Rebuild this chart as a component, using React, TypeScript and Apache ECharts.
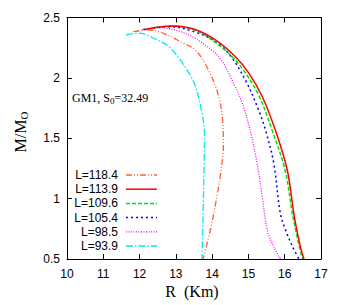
import React, { useEffect, useRef } from "react";
import * as echarts from "echarts";

const seriesNames = ["L=118.4", "L=113.9", "L=109.6", "L=105.4", "L=98.5", "L=93.9"];
const seriesColors = ["#ff6030", "#ff0000", "#00e000", "#0000ff", "#ff00ff", "#00e8f0"];
const seriesDash: (number[] | "solid")[] = [[6, 2, 1, 2, 1, 2], "solid", [4, 2], [2, 3], [1, 1.5], [7, 2, 1.5, 2]];
const seriesWidth = [1.3, 1.5, 1.5, 1.5, 1.3, 1.3];

// L=118.4
const rL118 = [11.83, 12.05, 12.29, 12.8, 13.12, 13.54, 13.9, 14.18, 14.3, 14.31, 14.27, 14.13, 13.95, 13.75];
const mL118 = [2.383, 2.392, 2.396, 2.35, 2.3, 2.23, 2.065, 1.846, 1.6, 1.45, 1.29, 1.016, 0.74, 0.5];
// L=113.9
const rL113 = [12.15, 12.5, 12.95, 13.53, 14.09, 14.64, 15.01, 15.38, 15.75, 16.07, 16.25, 16.36, 16.45, 16.53];
const mL113 = [2.4, 2.42, 2.43, 2.4, 2.314, 2.175, 2.04, 1.846, 1.56, 1.237, 0.878, 0.7, 0.58, 0.5];
// L=109.6
const rL109 = [12.15, 12.5, 12.9, 13.5, 14.0, 14.55, 14.92, 15.3, 15.66, 16.01, 16.21, 16.33, 16.42, 16.49];
const mL109 = [2.4, 2.42, 2.43, 2.4, 2.314, 2.175, 2.04, 1.846, 1.56, 1.237, 0.878, 0.7, 0.58, 0.5];
// L=105.4
const rL105 = [12.1, 12.45, 12.85, 13.53, 14.04, 14.46, 14.92, 15.28, 15.47, 15.7, 15.88, 16.05, 16.22, 16.39];
const mL105 = [2.4, 2.415, 2.424, 2.38, 2.31, 2.2, 1.98, 1.734, 1.568, 1.29, 0.878, 0.72, 0.6, 0.5];
// L=98.5
const rL98 = [12.06, 12.6, 13.1, 13.53, 14.18, 14.55, 14.83, 15.06, 15.24, 15.38, 15.52, 15.7, 15.88];
const mL98 = [2.396, 2.415, 2.385, 2.328, 2.175, 1.98, 1.79, 1.55, 1.29, 1.016, 0.74, 0.6, 0.5];
// L=93.9
const rL93 = [11.63, 11.97, 12.38, 12.85, 13.31, 13.54, 13.72, 13.79, 13.78, 13.76, 13.74, 13.72];
const mL93 = [2.355, 2.37, 2.33, 2.245, 2.065, 1.93, 1.707, 1.54, 1.3, 1.0, 0.74, 0.5];

const radii = [rL118, rL113, rL109, rL105, rL98, rL93];
const masses = [mL118, mL113, mL109, mL105, mL98, mL93];

const xMin = 10, xMax = 17, xStep = 1;
const yMin = 0.5, yMax = 2.5, yStep = 0.5;

export default function App() {
  const ref = useRef<HTMLDivElement>(null);
  useEffect(() => {
    if (!ref.current) return;
    const chart = echarts.init(ref.current, undefined, { renderer: "svg" });
    const tickFont = { fontFamily: "Liberation Sans", fontSize: 12, color: "#000" };
    const axisCommon = {
      type: "value" as const,
      axisLine: { show: true, lineStyle: { color: "#000", width: 1 } },
      axisTick: { show: true, inside: true, length: 5, lineStyle: { color: "#000" } },
      splitLine: { show: false },
    };
    const series = seriesNames.map((name, i) => ({
      name,
      type: "line",
      data: radii[i].map((r, j) => [r, masses[i][j]]),
      showSymbol: false,
      symbol: "none",
      smooth: 0.35,
      lineStyle: { color: seriesColors[i], width: seriesWidth[i], type: seriesDash[i] },
      z: 10 - i,
    }));
    const legendItems: any[] = [];
    seriesNames.forEach((name, i) => {
      const y = 175 + 14.2 * i;
      legendItems.push({
        type: "text",
        x: 118,
        y,
        style: { text: name, align: "right", verticalAlign: "middle", font: "12px 'Liberation Sans'", fill: "#000" },
      });
      legendItems.push({
        type: "line",
        shape: { x1: 126, y1: y, x2: 157, y2: y },
        style: {
          stroke: seriesColors[i],
          lineWidth: seriesWidth[i],
          lineDash: seriesDash[i] === "solid" ? null : seriesDash[i],
        },
      });
    });
    chart.setOption({
      animation: false,
      grid: { left: 67, right: 17, top: 17.5, bottom: 46 },
      xAxis: [
        { ...axisCommon, min: xMin, max: xMax, interval: xStep, position: "bottom",
          axisLabel: { ...tickFont, margin: 9 } },
        { ...axisCommon, min: xMin, max: xMax, interval: xStep, position: "top", axisLabel: { show: false } },
      ],
      yAxis: [
        { ...axisCommon, min: yMin, max: yMax, interval: yStep, position: "left",
          axisLabel: { ...tickFont, margin: 7, formatter: (v: number) => String(v) } },
        { ...axisCommon, min: yMin, max: yMax, interval: yStep, position: "right", axisLabel: { show: false } },
      ],
      series,
      graphic: [
        {
          type: "text",
          x: 192,
          y: 291,
          style: { text: "R  (Km)", align: "center", verticalAlign: "middle", font: "16px 'Liberation Serif'", fill: "#000" },
        },
        {
          type: "text",
          x: 20,
          y: 132,
          rotation: Math.PI / 2,
          style: {
            text: "{a|M/M}{b|O}",
            align: "center",
            verticalAlign: "middle",
            rich: {
              a: { fontFamily: "Liberation Serif", fontSize: 16, fill: "#000" },
              b: { fontFamily: "Liberation Serif", fontSize: 11, fill: "#000", padding: [8, 0, 0, 0] },
            },
          },
        },
        {
          type: "text",
          x: 72,
          y: 98,
          style: {
            text: "{a|GM1, S}{b|0}{a|=32.49}",
            verticalAlign: "middle",
            rich: {
              a: { fontFamily: "Liberation Serif", fontSize: 12, fill: "#000" },
              b: { fontFamily: "Liberation Serif", fontSize: 9, fill: "#000", padding: [6, 0, 0, 0] },
            },
          },
        },
        ...legendItems,
      ],
    });
    return () => chart.dispose();
  }, []);
  return <div ref={ref} style={{ position: "fixed", left: 0, top: 0, width: 338, height: 305, background: "#fff" }} />;
}
